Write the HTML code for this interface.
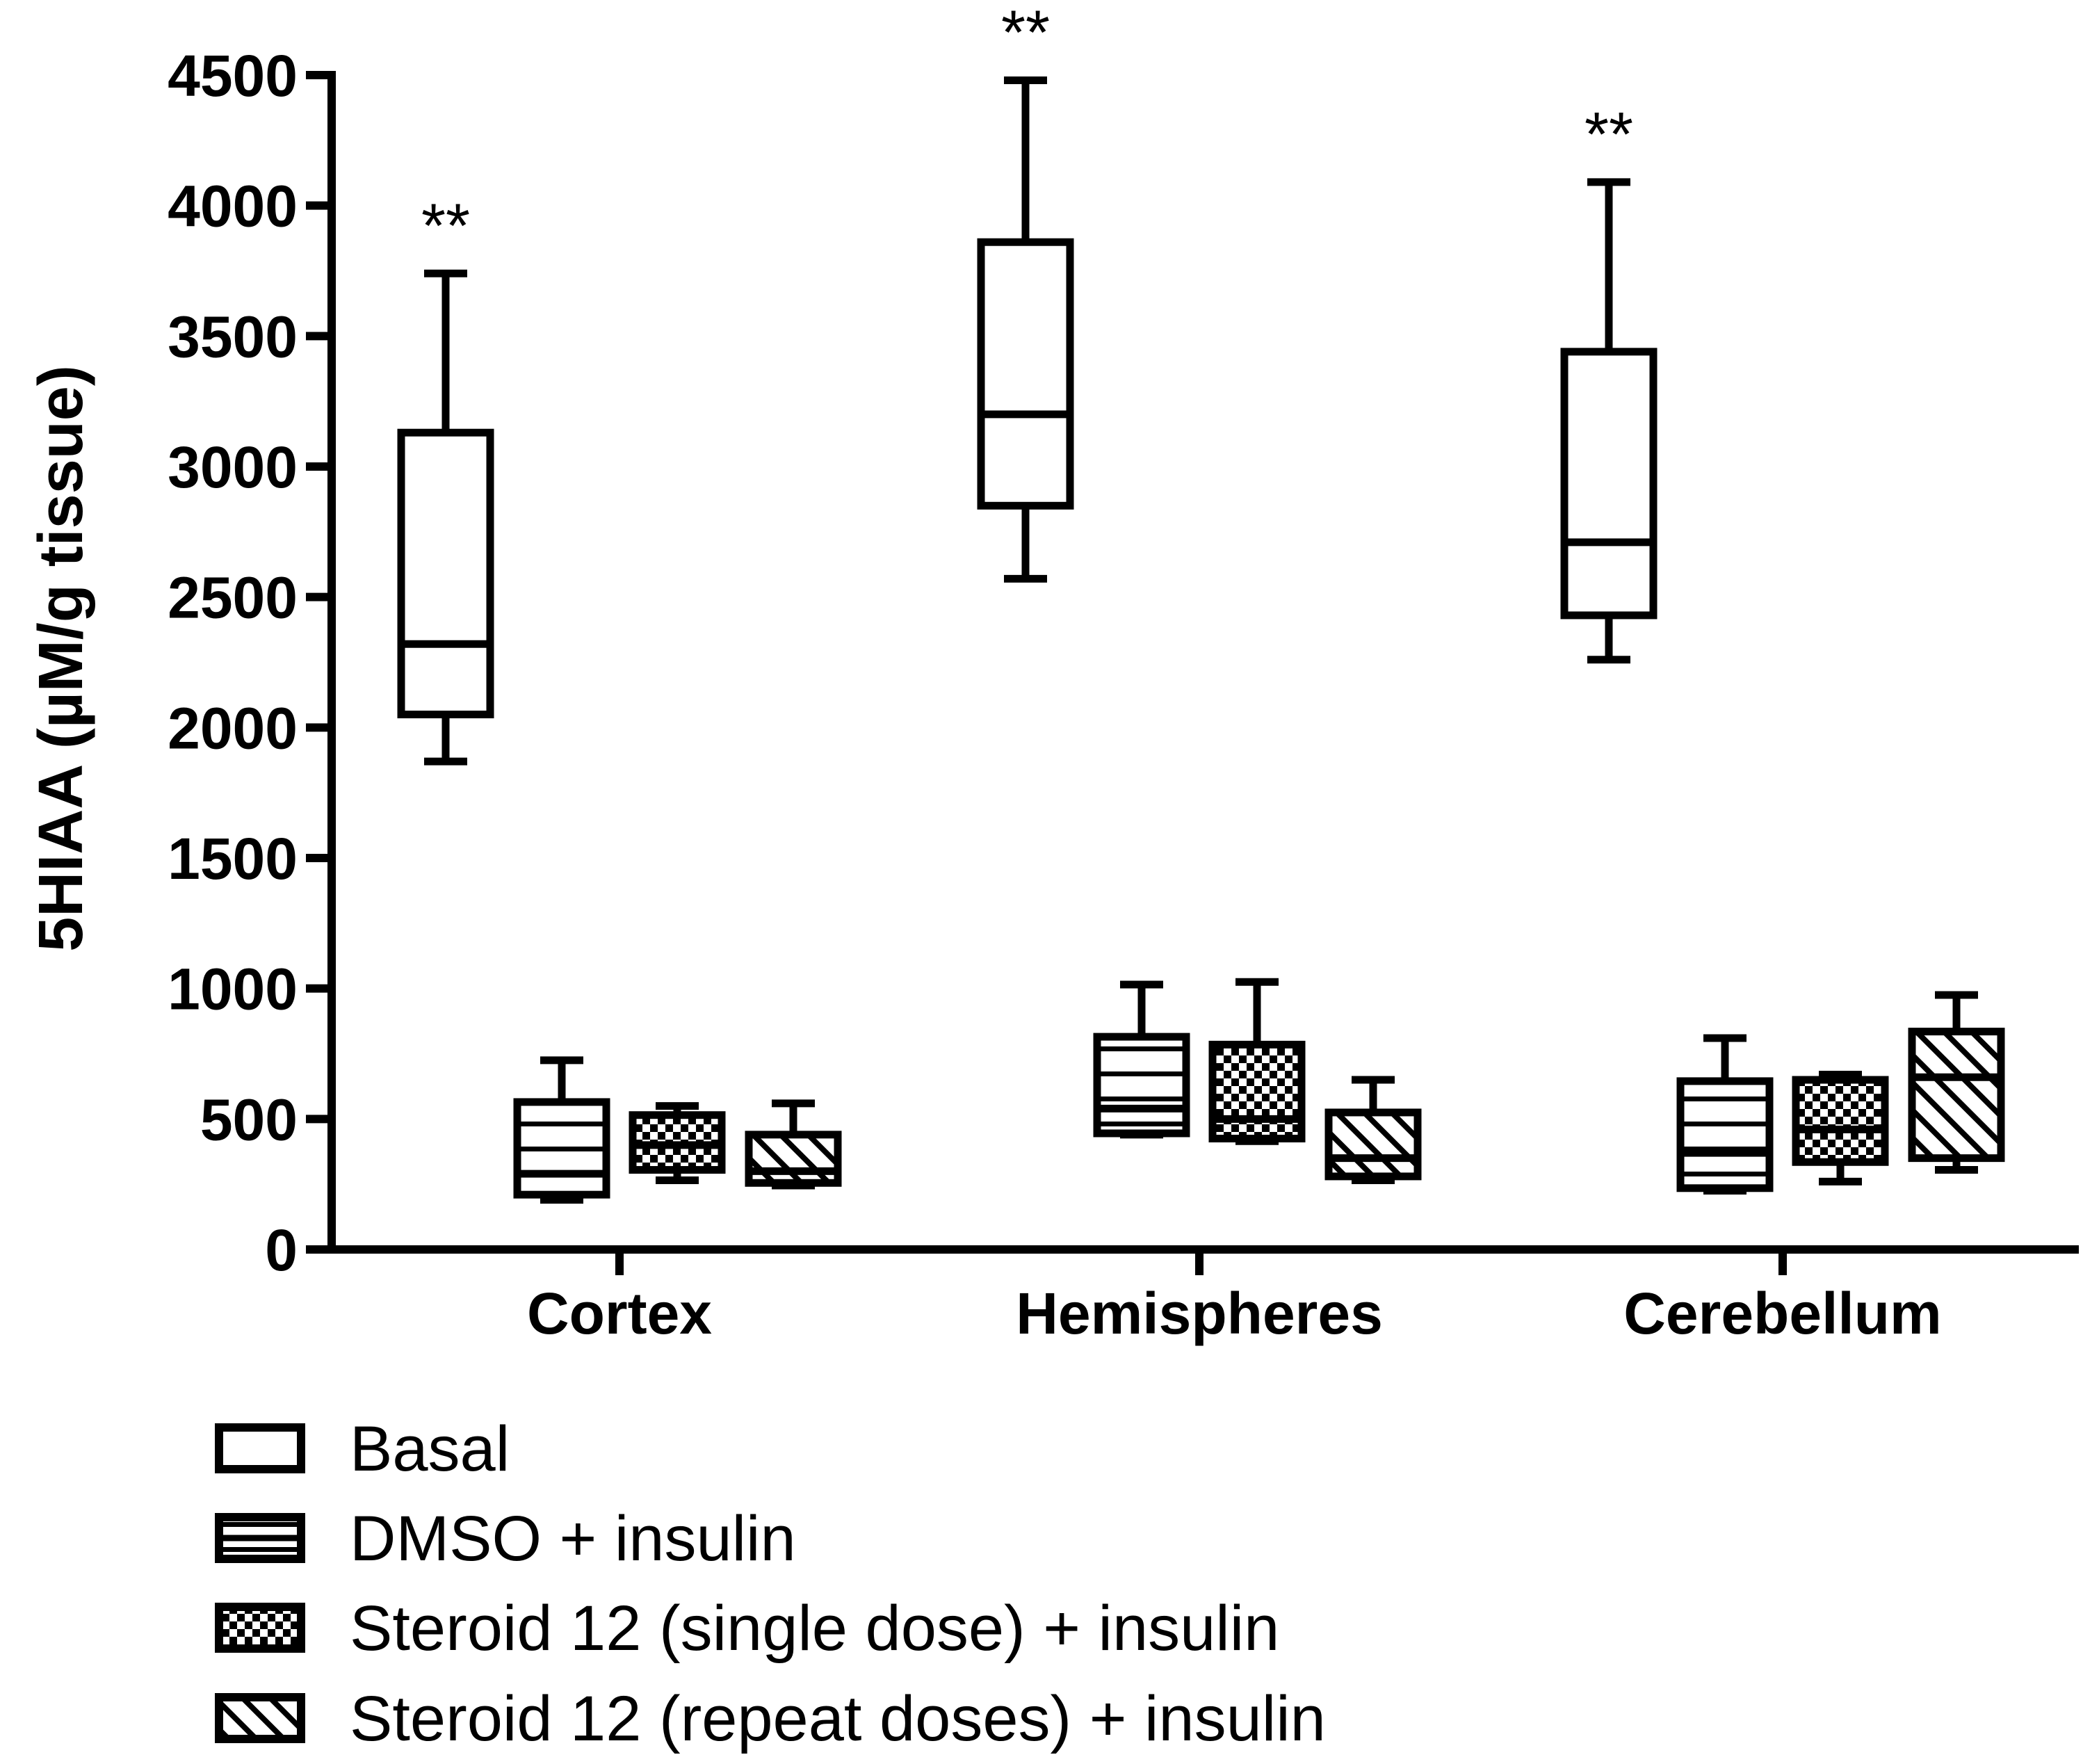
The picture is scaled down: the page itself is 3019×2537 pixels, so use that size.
<!DOCTYPE html>
<html><head><meta charset="utf-8"><style>
html,body{margin:0;padding:0;background:#fff;}
svg{display:block;}
text{font-family:"Liberation Sans",Arial,sans-serif;fill:#000;}
</style></head><body>
<svg id="chart" width="3019" height="2537" viewBox="0 0 3019 2537" xmlns="http://www.w3.org/2000/svg">
<defs>
<pattern id="pat-h" patternUnits="userSpaceOnUse" width="20" height="36"><rect width="20" height="36" fill="#fff"/><rect y="29" width="20" height="8" fill="#000"/></pattern>
<pattern id="pat-c" patternUnits="userSpaceOnUse" width="22" height="22"><rect width="22" height="22" fill="#fff"/><rect width="11" height="11" fill="#000"/><rect x="11" y="11" width="11" height="11" fill="#000"/></pattern>
<pattern id="pat-d" patternUnits="userSpaceOnUse" width="28" height="28" patternTransform="rotate(-45)"><rect width="28" height="28" fill="#fff"/><rect x="0" width="8" height="28" fill="#000"/></pattern>
</defs>
<g id="axes"></g>
<g id="marks"></g>
<g id="legend"></g>
</svg>
<script>
const categories = ["Cortex", "Hemispheres", "Cerebellum"];
const seriesNames = ["Basal", "DMSO + insulin", "Steroid 12 (single dose) + insulin", "Steroid 12 (repeat doses) + insulin"];
const basalStats = [[1870,2050,2320,3130,3740],[2570,2850,3200,3860,4480],[2260,2430,2710,3440,4090]];
const dmsoStats = [[190,210,290,565,725],[440,445,540,815,1015],[225,235,370,645,810]];
const singleStats = [[265,305,400,515,550],[415,425,500,785,1025],[260,335,460,650,670]];
const repeatStats = [[245,255,300,440,560],[265,280,350,525,650],[305,350,660,835,975]];
const yTicks = [0,500,1000,1500,2000,2500,3000,3500,4000,4500];
const significance = ["**","**","**"];

const NS='http://www.w3.org/2000/svg';
const X0=477, X1=2990, Y0=1797, YT=108, YMAX=4500;
const catX=[891,1725,2564], offs=[-250,-83,83,250], BW=128, CAP=62;
const fills=["#fff","url(#pat-h)","url(#pat-c)","url(#pat-d)"];
const allStats=[basalStats,dmsoStats,singleStats,repeatStats];
function y(v){return Y0-(Y0-YT)*v/YMAX;}
function xc(ci,si){return catX[ci]+offs[si];}
function mk(tag,attrs,parent,txt){const e=document.createElementNS(NS,tag);for(const k in attrs)e.setAttribute(k,attrs[k]);if(txt!==undefined)e.textContent=txt;parent.appendChild(e);return e;}
const axes=document.getElementById('axes'), marks=document.getElementById('marks'), legend=document.getElementById('legend');

let e=mk('line',{x1:X0,y1:YT-6,x2:X0,y2:Y0+6,stroke:'#000','stroke-width':12},axes);


e=mk('line',{x1:X0-6,y1:Y0,x2:X1,y2:Y0,stroke:'#000','stroke-width':12},axes);


yTicks.forEach(t=>{
  let l=mk('line',{x1:440,y1:y(t),x2:X0,y2:y(t),stroke:'#000','stroke-width':12},axes);
  
  
  let tx=mk('text',{x:428,y:y(t)+30,'text-anchor':'end','font-size':84,'font-weight':'bold'},axes,String(t));
  
  
});
categories.forEach((c,i)=>{
  let l=mk('line',{x1:catX[i],y1:Y0,x2:catX[i],y2:1834,stroke:'#000','stroke-width':12},axes);
  
  
  let tx=mk('text',{x:catX[i],y:1918,'text-anchor':'middle','font-size':84,'font-weight':'bold'},axes,c);
  
  
});
e=mk('text',{x:0,y:0,'text-anchor':'middle','font-size':90,'font-weight':'bold',transform:'translate(118,947) rotate(-90)'},axes,'5HIAA (µM/g tissue)');



allStats.forEach((stats,si)=>{
  stats.forEach((s,ci)=>{
    const cx=xc(ci,si);
    const g=mk('g',{},marks);
    
    
    const sw=11;
    mk('line',{x1:cx,y1:y(s[0]),x2:cx,y2:y(s[4]),stroke:'#000','stroke-width':sw},g);
    mk('line',{x1:cx-CAP/2,y1:y(s[0]),x2:cx+CAP/2,y2:y(s[0]),stroke:'#000','stroke-width':sw},g);
    mk('line',{x1:cx-CAP/2,y1:y(s[4]),x2:cx+CAP/2,y2:y(s[4]),stroke:'#000','stroke-width':sw},g);
    mk('rect',{x:cx-BW/2,y:y(s[3]),width:BW,height:y(s[1])-y(s[3]),fill:fills[si],stroke:'#000','stroke-width':sw},g);
    mk('line',{x1:cx-BW/2,y1:y(s[2]),x2:cx+BW/2,y2:y(s[2]),stroke:'#000','stroke-width':sw},g);
  });
});
basalStats.forEach((s,ci)=>{
  let tx=mk('text',{x:xc(ci,0),y:y(s[4])-38,'text-anchor':'middle','font-size':90},marks,significance[ci]);
  
  
});

const legY=[2083,2212,2341,2471];
seriesNames.forEach((n,i)=>{
  const g=mk('g',{},legend);
  
  
  mk('rect',{x:315,y:legY[i]-30,width:118,height:60,fill:fills[i],stroke:'#000','stroke-width':12},g);
  if(i===1) mk('line',{x1:315,y1:legY[i],x2:433,y2:legY[i],stroke:'#000','stroke-width':9},g);
  mk('text',{x:503,y:legY[i]+32,'font-size':92},g,n);
});
</script>
</body></html>
